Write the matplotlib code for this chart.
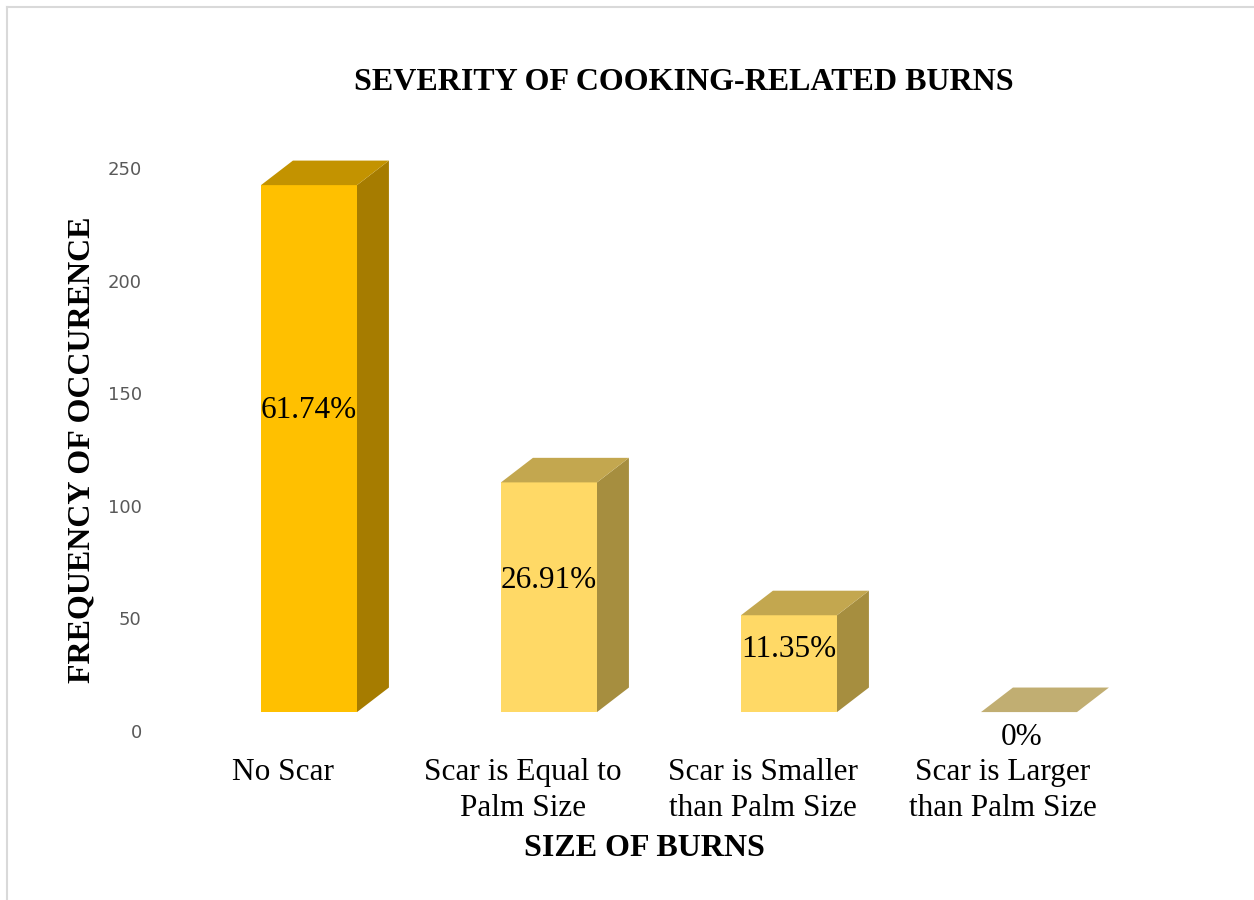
import matplotlib
matplotlib.use("Agg")
import matplotlib.pyplot as plt
from matplotlib.patches import Polygon
from matplotlib.lines import Line2D

# data (counts out of 379 responses)
categories = ["No Scar", "Scar is Equal to\nPalm Size", "Scar is Smaller\nthan Palm Size",
              "Scar is Larger\nthan Palm Size"]
counts = [234, 102, 43, 0]
pct_labels = ["61.74%", "26.91%", "11.35%", "0%"]
y_ticks = [0, 50, 100, 150, 200, 250]

# colours: front, top, side
face_colors = ["#FFC000", "#FFD966", "#FFD966", "#FFD966"]
top_colors = ["#C39300", "#C3A74F", "#C3A74F", "#C1AE72"]
side_colors = ["#A67C00", "#A68E3F", "#A68E3F", "#A68E3F"]

# fake 3d geometry (data units)
half_w = 0.2
depth_x = 0.133
depth_y = 10.9
floor = 8.4
label_y = [142.5, 67, 36, -2.8]

serif = "Liberation Serif"

fig = plt.figure(figsize=(12.54, 9), dpi=100)
ax = fig.add_axes([150 / 1254, 169 / 900, 1050 / 1254, 581 / 900])
ax.set_xlim(-0.6625, 3.7125)
ax.set_ylim(0, 258)

for i, v in enumerate(counts):
    x0, x1 = i - half_w, i + half_w
    b, t = floor, floor + v
    if v > 0:
        ax.add_patch(Polygon([(x0, b), (x1, b), (x1, t), (x0, t)], closed=True,
                             facecolor=face_colors[i], edgecolor="none"))
        ax.add_patch(Polygon([(x1, b), (x1 + depth_x, b + depth_y), (x1 + depth_x, t + depth_y), (x1, t)],
                             closed=True, facecolor=side_colors[i], edgecolor="none"))
    ax.add_patch(Polygon([(x0, t), (x1, t), (x1 + depth_x, t + depth_y), (x0 + depth_x, t + depth_y)],
                         closed=True, facecolor=top_colors[i], edgecolor="none"))
    ax.text(i - (0.03 if v == 0 else 0), label_y[i], pct_labels[i], ha="center", va="center",
            fontsize=22.5, family=serif, color="black", clip_on=False)
    ax.text(i - 0.11, -12, categories[i], ha="center", va="top", fontsize=22.5,
            family=serif, linespacing=1.3, clip_on=False)

ax.set_xticks([])
ax.set_yticks(y_ticks)
ax.tick_params(axis="y", length=0, pad=6, labelsize=13, labelcolor="#595959")
for s in ax.spines.values():
    s.set_visible(False)

fig.text(684 / 1254, 1 - 82 / 900, "SEVERITY OF COOKING-RELATED BURNS", ha="center", va="center",
         fontsize=23, fontweight="bold", family=serif)
fig.text(82 / 1254, 1 - 450 / 900, "FREQUENCY OF OCCURENCE", ha="center", va="center",
         rotation=90, fontsize=23, fontweight="bold", family=serif)
fig.text(644 / 1254, 1 - 849 / 900, "SIZE OF BURNS", ha="center", va="center",
         fontsize=23, fontweight="bold", family=serif)

# light border on the top and left like the pasted chart
fig.add_artist(Line2D([7 / 1254, 1], [1 - 7 / 900, 1 - 7 / 900], color="#d9d9d9", lw=1.5))
fig.add_artist(Line2D([7 / 1254, 7 / 1254], [0, 1 - 7 / 900], color="#d9d9d9", lw=1.5))

fig.savefig("out.png", dpi=100)
